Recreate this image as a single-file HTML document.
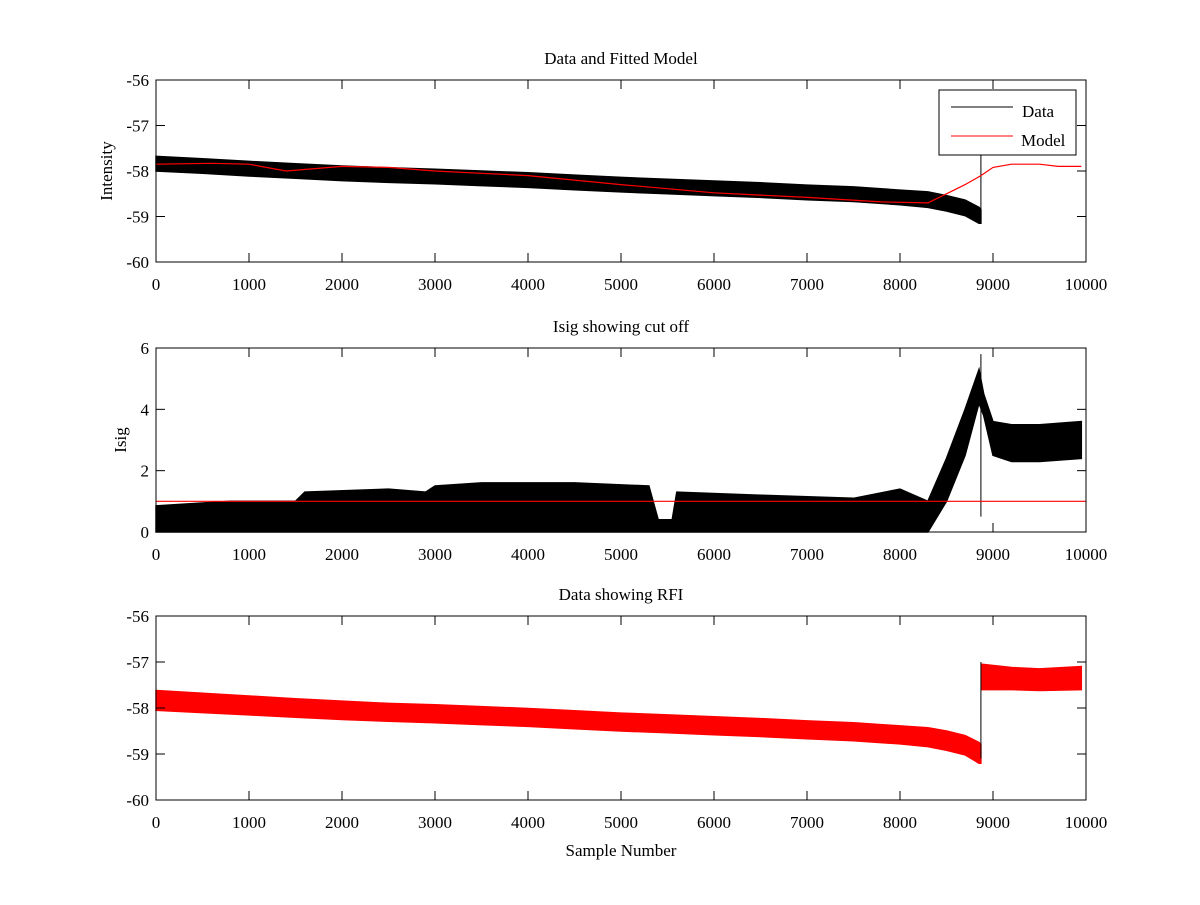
<!DOCTYPE html>
<html><head><meta charset="utf-8"><style>
body{margin:0;background:#fff}
svg text{font-family:"Liberation Serif",serif;font-size:17px;fill:#000}
</style></head><body>
<svg id="fig" width="1200" height="900" xmlns="http://www.w3.org/2000/svg"></svg>
<script>
// ---- data ----
const xTicks=[0,1000,2000,3000,4000,5000,6000,7000,8000,9000,10000];
const yTicksIntensity=[-60,-59,-58,-57,-56];
const yTicksIsig=[0,2,4,6];
// Plot 1 data band (sample, upper, lower)
const p1Samples=[0,500,1000,1500,2000,2500,3000,3500,4000,4500,5000,5500,6000,6500,7000,7500,8000,8300,8500,8700,8850,8870];
const p1Upper=[-57.68,-57.73,-57.79,-57.84,-57.89,-57.93,-57.96,-58.0,-58.04,-58.09,-58.14,-58.18,-58.22,-58.26,-58.31,-58.35,-58.42,-58.46,-58.54,-58.64,-58.8,-58.85];
const p1Lower=[-58.0,-58.05,-58.11,-58.16,-58.21,-58.25,-58.28,-58.32,-58.36,-58.41,-58.46,-58.5,-58.54,-58.58,-58.63,-58.67,-58.74,-58.8,-58.88,-58.98,-59.15,-59.15];
// Plot 1 model
const modelSamples=[0,600,1000,1400,2000,2500,3000,3500,4000,5000,6000,7000,7800,8300,8500,8700,8870,9000,9200,9500,9700,9950];
const modelValues=[-57.85,-57.83,-57.85,-58.0,-57.9,-57.92,-58.0,-58.05,-58.1,-58.3,-58.48,-58.58,-58.68,-58.7,-58.5,-58.3,-58.1,-57.92,-57.85,-57.85,-57.9,-57.9];
// Plot 2 Isig band
const p2Samples=[0,800,1500,1600,2500,2900,3000,3500,4500,5300,5400,5550,5600,6500,7500,8000,8300,8500,8700,8850,8900,9000,9200,9500,9950];
const p2Upper=[0.85,1.0,1.0,1.3,1.4,1.3,1.5,1.6,1.6,1.5,0.4,0.4,1.3,1.2,1.1,1.4,1.0,2.4,4.0,5.3,4.5,3.6,3.5,3.5,3.6];
const p2Lower=[0,0,0,0,0,0,0,0,0,0,0,0,0,0,0,0,0,1.0,2.5,4.2,3.8,2.5,2.3,2.3,2.4];
const cutoffValue=1.0;
// Plot 3 RFI band
const p3SamplesA=p1Samples;
const p3UpperA=[-57.62,-57.68,-57.74,-57.8,-57.85,-57.9,-57.93,-57.97,-58.01,-58.06,-58.11,-58.15,-58.19,-58.23,-58.28,-58.32,-58.39,-58.43,-58.5,-58.6,-58.75,-58.8];
const p3LowerA=[-58.05,-58.1,-58.15,-58.2,-58.25,-58.29,-58.32,-58.36,-58.4,-58.45,-58.5,-58.54,-58.58,-58.62,-58.67,-58.71,-58.78,-58.84,-58.92,-59.02,-59.2,-59.2];
const p3SamplesB=[8880,9200,9500,9950];
const p3UpperB=[-57.05,-57.12,-57.15,-57.1];
const p3LowerB=[-57.6,-57.6,-57.62,-57.6];

// ---- drawing ----
const NS='http://www.w3.org/2000/svg';
const svg=document.getElementById('fig');
function mk(tag,attrs,parent){const e=document.createElementNS(NS,tag);for(const k in attrs)e.setAttribute(k,attrs[k]);(parent||svg).appendChild(e);return e;}
const X0=156,X1=1086;
const xs=s=>X0+s/10000*(X1-X0);
function yScale(top,bot,min,max){return v=>bot-(v-min)/(max-min)*(bot-top);}
function band(g,sx,up,lo,ys,color,name){
  let d='M'+sx.map((s,i)=>xs(s).toFixed(1)+','+ys(up[i]).toFixed(1)).join('L');
  for(let i=sx.length-1;i>=0;i--)d+='L'+xs(sx[i]).toFixed(1)+','+ys(lo[i]).toFixed(1);
  const p=mk('path',{d:d+'Z',fill:color,stroke:color,'stroke-width':1.5},g);
  
  
}
function line(g,sx,vals,ys,color,name){
  const p=mk('polyline',{points:sx.map((s,i)=>xs(s).toFixed(1)+','+ys(vals[i]).toFixed(1)).join(' '),fill:'none',stroke:color,'stroke-width':1.2},g);
  
  
}
function axes(g,top,bot,ys,yt,title,ylabel,ylx,name){
  const r=mk('rect',{x:X0,y:top,width:X1-X0,height:bot-top,fill:'none',stroke:'#000','stroke-width':1},g);
  
  
  xTicks.forEach(t=>{const x=xs(t);
    mk('line',{x1:x,x2:x,y1:bot,y2:bot-9,stroke:'#000'},g);mk('line',{x1:x,x2:x,y1:top,y2:top+9,stroke:'#000'},g);
    const tx=mk('text',{x:x,y:bot+28,'text-anchor':'middle'},g);tx.textContent=t;
    
    });
  yt.forEach(t=>{const y=ys(t);
    mk('line',{x1:X0,x2:X0+9,y1:y,y2:y,stroke:'#000'},g);mk('line',{x1:X1,x2:X1-9,y1:y,y2:y,stroke:'#000'},g);
    const tx=mk('text',{x:X0-7,y:y+6,'text-anchor':'end'},g);tx.textContent=t;
    
    });
  const tt=mk('text',{x:621,y:top-16,'text-anchor':'middle'},g);tt.textContent=title;
  
  
  const yl=mk('text',{x:ylx,y:(top+bot)/2,'text-anchor':'middle',transform:`rotate(-90 ${ylx} ${(top+bot)/2})`},g);yl.textContent=ylabel;
  
  
}
// Plot 1
const g1=mk('g',{});
const y1=yScale(80,262,-60,-56);
band(g1,p1Samples,p1Upper,p1Lower,y1,'#000','data-series');
mk('line',{x1:xs(8870),x2:xs(8870),y1:y1(-59.1),y2:y1(-57.3),stroke:'#000'},g1);
mk('rect',{x:xs(9930),y:y1(-57.4),width:4,height:y1(-57.1)-y1(-57.4),fill:'#000'},g1);
line(g1,modelSamples,modelValues,y1,'#f00','model-series');
axes(g1,80,262,y1,yTicksIntensity,'Data and Fitted Model','Intensity',112,'plot1');
const lg=mk('g',{});
mk('rect',{x:939,y:90,width:137,height:65,fill:'#fff',stroke:'#000'},lg);
mk('line',{x1:951,x2:1013,y1:107,y2:107,stroke:'#000'},lg);
mk('line',{x1:951,x2:1013,y1:136,y2:136,stroke:'#f00'},lg);
let t=mk('text',{x:1022,y:117},lg);t.textContent='Data';
t=mk('text',{x:1021,y:146},lg);t.textContent='Model';
// Plot 2
const g2=mk('g',{});
const y2=yScale(348,532,0,6);
band(g2,p2Samples,p2Upper,p2Lower,y2,'#000','isig-series');
mk('line',{x1:xs(8870),x2:xs(8870),y1:y2(0.5),y2:y2(5.8),stroke:'#000'},g2);
line(g2,[0,10000],[cutoffValue,cutoffValue],y2,'#f00','cutoff-line');
axes(g2,348,532,y2,yTicksIsig,'Isig showing cut off','Isig',126,'plot2');
// Plot 3
const g3=mk('g',{});
const y3=yScale(616,800,-60,-56);
band(g3,p3SamplesA,p3UpperA,p3LowerA,y3,'#f00','rfi-series-before');
band(g3,p3SamplesB,p3UpperB,p3LowerB,y3,'#f00','rfi-series-after');
mk('line',{x1:xs(8870),x2:xs(8870),y1:y3(-59.1),y2:y3(-57.0),stroke:'#000'},g3);
axes(g3,616,800,y3,yTicksIntensity,'Data showing RFI','',112,'plot3');
t=mk('text',{x:621,y:856,'text-anchor':'middle'});t.textContent='Sample Number';


</script>
</body></html>
